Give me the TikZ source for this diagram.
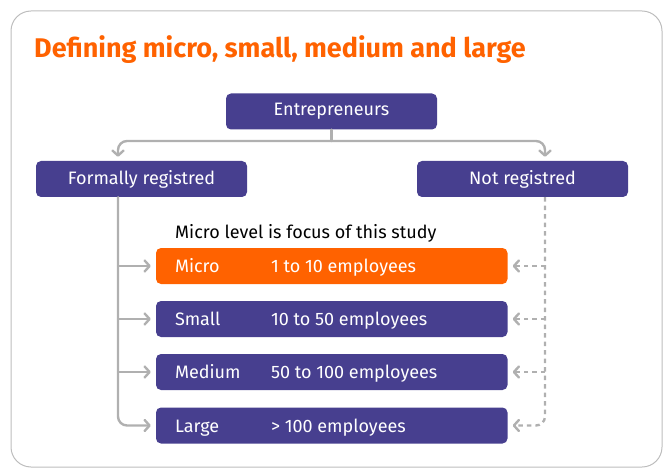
\documentclass[tikz,border=0pt]{standalone}
\usepackage{fontspec}
\setmainfont{Fira Sans}
\usetikzlibrary{arrows.meta}
\definecolor{ingpurple}{HTML}{473F8F}
\definecolor{ingorange}{HTML}{FF6200}
\definecolor{lgray}{HTML}{B0B0B0}
\definecolor{framegray}{HTML}{BDBDBD}
\begin{document}
\begin{tikzpicture}[x=1pt,y=-1pt,
  box/.style={fill=ingpurple, rounded corners=5pt, text=white,
    font=\fontsize{18}{20}\selectfont, inner sep=0pt, minimum height=36pt},
  rowbox/.style={box, minimum width=351.5pt},
  lbl/.style={text=white, font=\fontsize{18}{20}\selectfont, inner sep=0pt, anchor=base west},
  gline/.style={draw=lgray, line width=2.4pt, line cap=round},
  conn/.style={gline, rounded corners=9pt, -{Straight Barb[length=5pt,width=11pt,line cap=round,line join=round]}},
  dconn/.style={conn, line cap=butt, dash pattern=on 4.5pt off 4pt}]
\useasboundingbox (0,0) rectangle (663,470);
\draw[framegray, line width=1pt, rounded corners=20pt] (11,11) rectangle (662,467);
\node[anchor=base west, inner sep=0pt, text=ingorange, font=\bfseries\fontsize{27}{30}\selectfont]
  (title) at (34,58) {Defining micro, small, medium and large};
\node[box, minimum width=211pt] (ent) at (331.5,111.5) {Entrepreneurs};
\node[box, minimum width=211pt] (formal) at (141.5,179) {Formally registred};
\node[box, minimum width=211pt] (notreg) at (522.5,179) {Not registred};
\node[anchor=base west, inner sep=0pt, font=\fontsize{18}{20}\selectfont] (focus) at (175,239) {Micro level is focus of this study};
\node[rowbox, fill=ingorange] (micro) at (331.75,266) {};
\node[rowbox] (small) at (331.75,319) {};
\node[rowbox] (medium) at (331.75,372) {};
\node[rowbox] (large) at (331.75,425.5) {};
\foreach \r/\a/\b in {micro/Micro/1 to 10 employees, small/Small/10 to 50 employees,
  medium/Medium/50 to 100 employees, large/Large/> 100 employees}{
  \node[lbl] (\r name) at ([xshift=19pt,yshift=-6.5pt]\r.west) {\a};
  \node[lbl] (\r size) at ([xshift=115pt,yshift=-6.5pt]\r.west) {\b};
}
\coordinate (split) at (331.5,141);
\coordinate (lx) at (118,0);
\coordinate (rx) at (545,0);
\draw[gline] (ent.south) -- (split);
\draw[conn, shorten >=4pt] (split) -| (formal.north -| lx);
\draw[conn, shorten >=4pt] (split) -| (notreg.north -| rx);
\draw[conn, shorten >=5pt] (formal.south -| lx) |- (large.west);
\foreach \r in {micro,small,medium}{
  \draw[conn, shorten >=5pt] (\r.west -| lx) -- (\r.west);
  \draw[dconn, shorten >=5pt] (\r.east -| rx) -- (\r.east);
}
\draw[dconn, shorten >=5pt] (notreg.south -| rx) |- (large.east);
\end{tikzpicture}
\end{document}
